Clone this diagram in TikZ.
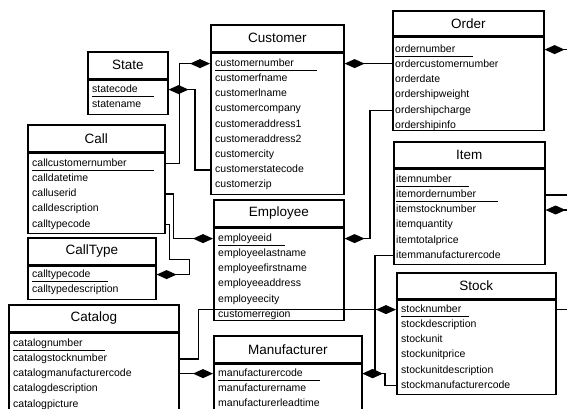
\documentclass[tikz,border=0pt]{standalone}
\usepackage{fontspec}
\setmainfont{Liberation Sans}
\usetikzlibrary{arrows.meta,positioning}
\newcommand{\keyfld}[2]{\underline{\vphantom{g}#1\hspace{#2pt}}}

\begin{document}
\begin{tikzpicture}[x=1pt, y=-1pt,
  ttl/.style={draw, line width=1.6pt, anchor=north west, minimum height=27pt,
              inner sep=0pt, font=\fontsize{13.5}{16}\selectfont},
  bdy/.style={draw, line width=1.6pt, inner sep=0pt},
  fld/.style={anchor=west, inner sep=0pt, xshift=5pt, text height=8pt, text depth=2.5pt,
              font=\fontsize{10.5}{12}\selectfont},
  rel/.style={-{Diamond[length=20pt,width=9pt]}, line width=1.5pt},
]
\useasboundingbox (0,0) rectangle (567,409);
\clip (0,0) rectangle (567,409);

% ================= TABLES =================
\node[ttl, minimum width=80pt] (state) at (87,51) {State};
\node[bdy, minimum width=80pt, minimum height=34pt, below=0pt of state] (state-b) {};
\foreach \fname [count=\i] in {\keyfld{statecode}{16}, statename}
  \node[fld] (state-\i) at ([yshift={-10pt-(\i-1)*15.2pt}]state-b.north west) {\fname};

\node[ttl, minimum width=133pt] (cust) at (210,24) {Customer};
\node[bdy, minimum width=133pt, minimum height=141pt, below=0pt of cust] (cust-b) {};
\foreach \fname [count=\i] in {\keyfld{customernumber}{23}, customerfname, customerlname,
    customercompany, customeraddress1, customeraddress2, customercity,
    customerstatecode, customerzip}
  \node[fld] (cust-\i) at ([yshift={-11pt-(\i-1)*15.2pt}]cust-b.north west) {\fname};

\node[ttl, minimum width=151pt, minimum height=25pt] (ord) at (392,10) {Order};
\node[bdy, minimum width=151pt, minimum height=93pt, below=0pt of ord] (ord-b) {};
\foreach \fname [count=\i] in {\keyfld{ordernumber}{18}, ordercustomernumber, orderdate,
    ordershipweight, ordershipcharge, ordershipinfo}
  \node[fld, xshift=-2pt] (ord-\i) at ([yshift={-13pt-(\i-1)*15.2pt}]ord-b.north west) {\fname};

\node[ttl, minimum width=137pt] (call) at (27,124) {Call};
\node[bdy, minimum width=137pt, minimum height=80pt, below=0pt of call] (call-b) {};
\foreach \fname [count=\i] in {\keyfld{callcustomernumber}{27}, calldatetime, calluserid,
    calldescription, calltypecode}
  \node[fld] (call-\i) at ([yshift={-11pt-(\i-1)*15.2pt}]call-b.north west) {\fname};

\node[ttl, minimum width=128pt] (ctype) at (27,237) {CallType};
\node[bdy, minimum width=128pt, minimum height=33pt, below=0pt of ctype] (ctype-b) {};
\foreach \fname [count=\i] in {\keyfld{calltypecode}{17}, calltypedescription}
  \node[fld] (ctype-\i) at ([yshift={-9pt-(\i-1)*15.2pt}]ctype-b.north west) {\fname};

\node[ttl, minimum width=130pt] (emp) at (213,199) {Employee};
\node[bdy, minimum width=130pt, minimum height=92pt, below=0pt of emp] (emp-b) {};
\foreach \fname [count=\i] in {\keyfld{employeeid}{13}, employeelastname, employeefirstname,
    employeeaddress, employeecity, customerregion}
  \node[fld] (emp-\i) at ([yshift={-11pt-(\i-1)*15.2pt}]emp-b.north west) {\fname};

\node[ttl, minimum width=151pt, minimum height=26pt] (item) at (393,141) {Item};
\node[bdy, minimum width=151pt, minimum height=95pt, below=0pt of item] (item-b) {};
\foreach \fname [count=\i] in {\keyfld{itemnumber}{17}, \keyfld{itemordernumber}{22},
    itemstocknumber, itemquantity, itemtotalprice, itemmanufacturercode}
  \node[fld, xshift=-2pt] (item-\i) at ([yshift={-11pt-(\i-1)*15.2pt}]item-b.north west) {\fname};

\node[ttl, minimum width=159pt, minimum height=26pt] (stock) at (396,272) {Stock};
\node[bdy, minimum width=159pt, minimum height=94pt, below=0pt of stock] (stock-b) {};
\foreach \fname [count=\i] in {\keyfld{stocknumber}{8}, stockdescription, stockunit,
    stockunitprice, stockunitdescription, stockmanufacturercode}
  \node[fld] (stock-\i) at ([yshift={-10pt-(\i-1)*15.2pt}]stock-b.north west) {\fname};

\node[ttl, minimum width=170pt] (cat) at (8,304) {Catalog};
\node[bdy, minimum width=170pt, minimum height=100pt, below=0pt of cat] (cat-b) {};
\foreach \fname [count=\i] in {\keyfld{catalognumber}{22}, catalogstocknumber,
    catalogmanufacturercode, catalogdescription, catalogpicture}
  \node[fld] (cat-\i) at ([yshift={-11pt-(\i-1)*15.2pt}]cat-b.north west) {\fname};

\node[ttl, minimum width=148pt] (man) at (213,335) {Manufacturer};
\node[bdy, minimum width=148pt, minimum height=80pt, below=0pt of man] (man-b) {};
\foreach \fname [count=\i] in {\keyfld{manufacturercode}{17}, manufacturername,
    manufacturerleadtime}
  \node[fld] (man-\i) at ([yshift={-10pt-(\i-1)*15.2pt}]man-b.north west) {\fname};

% ================= RELATIONS =================
\draw[rel] (call-1 -| call.east) -- ++(14,0) |- (cust-1 -| cust.west);
\draw[rel] (cust-8 -| cust.west) -- ++(-15,0) |- (state-1 -| state.east);
\draw[rel] (cust-1 -| ord.west) -- (cust-1 -| cust.east);
\draw[rel] (ord-5 -| ord.west) -- ++(-22,0) |- (emp-1 -| emp.east);
\draw[rel] (call-3 -| call.east) -- ++(8,0) |- (emp-1 -| emp.west);
\draw[rel] (call-5 -| call.east) -- ++(4,0) -- ++(0,35) -- ++(20,0) |- (ctype-1 -| ctype.east);
\draw[rel] (cat-2 -| cat.east) -- ++(19,0) |- (stock-1 -| stock.west);
\draw[rel] (man-1 -| cat.east) -- (man-1 -| man.west);
\draw[rel] (item-6 -| item.west) -- ++(-18,0) |- (man-1 -| man.east);
\draw[rel] (stock-6 -| stock.west) -- ++(-11,0) |- (man-1 -| man.east);
\draw[rel] (item-2 -| item.east) -- ++(32,0) |- (ord-1 -| ord.east);
\draw[rel] (stock-1 -| stock.east) -- ++(25,0) |- (item-3 -| item.east);

\end{tikzpicture}
\end{document}
